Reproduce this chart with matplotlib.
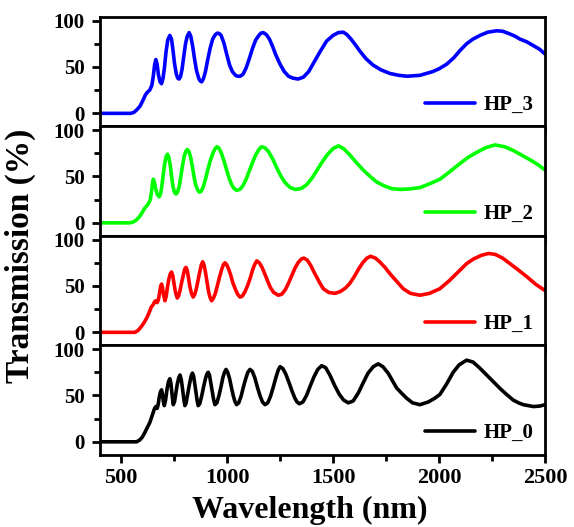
import matplotlib
matplotlib.use('Agg')
import matplotlib.pyplot as plt
from matplotlib.ticker import MultipleLocator

plt.rcParams['font.family'] = ['Liberation Serif', 'DejaVu Serif']
plt.rcParams['font.weight'] = 'bold'

# (wavelength nm, transmission %)
pts_hp3 = [(400, 0), (500, 0), (545, 0), (560, 1), (575, 4), (590, 8), (605, 15), (615, 20), (625, 23),
           (635, 25), (645, 30), (652, 40), (658, 52), (664, 58), (670, 53), (676, 42), (684, 34),
           (691, 32), (698, 38), (705, 50), (712, 66), (720, 79), (730, 84), (738, 80), (745, 68),
           (752, 54), (760, 43), (767, 38), (774, 37), (781, 40), (788, 48), (796, 62), (804, 75),
           (812, 83), (821, 87), (829, 83), (838, 72), (847, 58), (856, 46), (866, 38), (873, 35),
           (880, 34), (888, 37), (898, 45), (908, 57), (920, 70), (932, 80), (945, 85), (955, 86.5),
           (963, 86), (972, 84), (985, 76), (998, 64), (1012, 52), (1025, 45), (1040, 41), (1050, 40),
           (1061, 40), (1075, 42), (1090, 49), (1105, 59), (1120, 70), (1135, 79), (1150, 84),
           (1160, 86.5), (1171, 87), (1185, 85), (1200, 80), (1215, 72), (1230, 63), (1250, 53),
           (1270, 45), (1290, 40), (1310, 38), (1335, 37), (1360, 39), (1385, 45), (1410, 55),
           (1440, 67), (1470, 78), (1500, 84), (1525, 87), (1548, 87.5), (1565, 85), (1585, 80),
           (1605, 74), (1627, 67), (1655, 59), (1689, 52), (1725, 47), (1768, 43), (1810, 41),
           (1850, 40), (1910, 41), (1970, 45), (2000, 48), (2036, 53), (2070, 60), (2100, 68),
           (2130, 75), (2160, 80), (2193, 84), (2230, 87.5), (2272, 89), (2300, 88.5), (2330, 86),
           (2360, 83), (2382, 80), (2415, 77), (2445, 73), (2475, 69), (2500, 64)]

pts_hp2 = [(400, 0), (500, 0), (542, 0), (558, 1), (572, 3), (588, 7), (602, 12), (612, 16), (620, 18),
           (630, 21), (638, 25), (644, 34), (648, 42), (652, 47), (657, 44), (663, 37), (670, 31),
           (680, 28), (686, 31), (692, 39), (699, 52), (706, 64), (712, 71), (719, 74), (725, 71),
           (732, 62), (739, 49), (745, 39), (752, 33), (759, 31), (766, 33), (774, 39), (782, 50),
           (790, 62), (798, 72), (805, 77), (812, 79), (820, 77), (828, 71), (836, 61), (844, 50),
           (852, 41), (860, 36), (869, 33), (878, 34), (888, 39), (898, 47), (910, 58), (922, 68),
           (935, 76), (944, 80), (951, 82), (960, 81), (972, 76), (985, 67), (998, 57), (1010, 48),
           (1022, 41), (1033, 37), (1045, 35), (1060, 36), (1075, 40), (1090, 47), (1105, 56),
           (1120, 65), (1135, 73), (1150, 79), (1163, 82), (1178, 81), (1195, 77), (1215, 69),
           (1235, 59), (1255, 50), (1275, 43), (1298, 38), (1322, 36), (1350, 37), (1375, 41),
           (1400, 48), (1425, 57), (1450, 66), (1475, 74), (1500, 80), (1525, 83), (1550, 80),
           (1580, 73), (1610, 65), (1642, 57), (1675, 50), (1706, 44), (1740, 40), (1775, 37),
           (1816, 36), (1860, 36.5), (1910, 38), (1955, 42), (2004, 47), (2050, 55), (2099, 64),
           (2140, 71), (2178, 76), (2220, 81), (2264, 84), (2310, 82), (2350, 78), (2390, 73),
           (2429, 68), (2465, 63), (2500, 57)]

pts_hp1 = [(400, 0), (500, 0), (565, 0), (580, 2), (595, 6), (610, 11), (622, 16), (632, 21), (642, 27),
           (652, 30), (658, 33), (664, 34), (670, 32), (676, 35), (682, 43), (687, 50), (691, 52),
           (695, 49), (700, 41), (707, 34), (713, 39), (719, 49), (726, 58), (732, 63), (738, 65),
           (744, 61), (750, 52), (757, 43), (765, 37), (771, 39), (778, 45), (786, 54), (794, 62),
           (800, 68), (806, 70), (812, 67), (818, 59), (824, 50), (832, 42), (840, 38), (848, 41),
           (856, 48), (864, 57), (872, 66), (879, 73), (885, 76), (891, 73), (898, 65), (905, 55),
           (912, 45), (919, 38), (927, 34), (936, 37), (945, 42), (955, 51), (965, 60), (975, 68),
           (983, 73), (990, 75), (998, 73), (1008, 68), (1018, 61), (1028, 53), (1040, 46),
           (1050, 41), (1061, 38), (1072, 39), (1085, 44), (1098, 51), (1110, 59), (1120, 67),
           (1130, 73), (1140, 77), (1152, 75), (1165, 70), (1178, 63), (1192, 55), (1205, 48),
           (1220, 43), (1241, 40), (1258, 41), (1275, 46), (1290, 53), (1305, 61), (1320, 69),
           (1335, 75), (1350, 79), (1362, 80), (1378, 78), (1395, 72), (1410, 65), (1422, 60),
           (1438, 53), (1454, 47), (1480, 43), (1509, 42), (1535, 44), (1560, 48), (1580, 53),
           (1600, 60), (1620, 68), (1640, 75), (1660, 80), (1677, 82), (1700, 80), (1720, 76),
           (1745, 70), (1769, 63), (1800, 55), (1831, 47), (1865, 42), (1910, 40), (1955, 42),
           (2004, 47), (2050, 56), (2099, 67), (2130, 74), (2162, 79), (2200, 83), (2233, 85),
           (2265, 84), (2300, 80), (2335, 74), (2375, 67), (2414, 60), (2455, 52), (2500, 45)]

pts_hp0 = [(400, 0), (500, 0), (573, 0), (588, 2), (600, 5), (612, 10), (625, 16), (636, 21), (645, 27),
           (652, 32), (658, 36), (664, 38), (670, 36), (675, 40), (680, 48), (686, 54), (691, 56),
           (695, 52), (699, 44), (704, 39), (710, 45), (717, 57), (724, 65), (730, 68), (735, 63),
           (740, 52), (746, 40), (752, 43), (758, 52), (765, 62), (772, 69), (778, 72), (784, 67),
           (790, 57), (796, 46), (801, 39), (807, 42), (813, 50), (820, 59), (827, 67), (832, 72),
           (837, 74), (842, 71), (848, 62), (854, 52), (859, 44), (864, 39), (871, 41), (880, 49),
           (890, 60), (898, 68), (905, 73), (911, 75), (917, 72), (923, 64), (930, 54), (937, 45),
           (943, 40), (952, 42), (962, 50), (972, 60), (980, 69), (988, 75), (995, 78), (1003, 75),
           (1012, 68), (1021, 58), (1030, 49), (1038, 43), (1045, 40), (1055, 42), (1066, 49),
           (1077, 59), (1088, 68), (1098, 75), (1108, 78), (1119, 76), (1131, 69), (1143, 59),
           (1155, 50), (1167, 43), (1179, 40), (1192, 42), (1205, 49), (1218, 59), (1230, 69),
           (1241, 77), (1250, 81), (1263, 79), (1277, 73), (1292, 64), (1306, 55), (1320, 47),
           (1330, 43), (1341, 41), (1358, 43), (1375, 50), (1392, 60), (1410, 70), (1428, 78),
           (1446, 82), (1465, 80), (1485, 72), (1509, 60), (1530, 51), (1550, 45), (1572, 42),
           (1595, 44), (1620, 53), (1643, 64), (1665, 74), (1690, 81), (1713, 84), (1735, 81),
           (1760, 74), (1780, 66), (1800, 58), (1825, 52), (1847, 47), (1875, 42), (1910, 40),
           (1950, 43), (1980, 47), (2004, 51), (2035, 62), (2067, 75), (2095, 83), (2130, 88),
           (2160, 86), (2190, 80), (2225, 72), (2260, 64), (2290, 57), (2319, 51), (2350, 45),
           (2375, 42), (2398, 40), (2445, 38), (2475, 38.5), (2500, 40)]

names = ['HP_3', 'HP_2', 'HP_1', 'HP_0']
colors = ['#0000ff', '#00ff00', '#ff0000', '#000000']
all_pts = [pts_hp3, pts_hp2, pts_hp1, pts_hp0]

fig, axes = plt.subplots(4, 1, sharex=True, figsize=(5.74, 5.27), dpi=100)
fig.subplots_adjust(left=0.174, right=0.9495, bottom=0.137, top=0.968, hspace=0)

for ax, pts, c, name in zip(axes, all_pts, colors, names):
    wl = [p[0] for p in pts]
    t = [p[1] for p in pts]
    ax.plot(wl, t, color=c, lw=2.6, label=name, solid_joinstyle='round', solid_capstyle='round')
    ax.set_xlim(400, 2500)
    ax.set_ylim(-14, 104)
    ax.yaxis.set_major_locator(MultipleLocator(50))
    ax.yaxis.set_minor_locator(MultipleLocator(25))
    ax.xaxis.set_major_locator(MultipleLocator(500))
    ax.xaxis.set_minor_locator(MultipleLocator(250))
    ax.tick_params(which='major', direction='out', length=6, width=2)
    ax.tick_params(which='minor', direction='out', length=4, width=2)
    ax.tick_params(axis='y', labelsize=15, pad=5)
    ax.tick_params(axis='x', labelsize=16)
    for s in ax.spines.values():
        s.set_linewidth(2)
    ax.legend(loc='lower right', frameon=False, handlelength=2.4, handletextpad=0.4,
              borderaxespad=0.15, prop={'size': 15, 'weight': 'bold'})

fig.text(0.035, 0.515, 'Transmission (%)', rotation=90, ha='center', va='center',
         fontsize=24, fontweight='bold')
fig.text(0.54, 0.003, 'Wavelength (nm)', ha='center', va='bottom',
         fontsize=23, fontweight='bold')

fig.savefig('out.png', dpi=100)
